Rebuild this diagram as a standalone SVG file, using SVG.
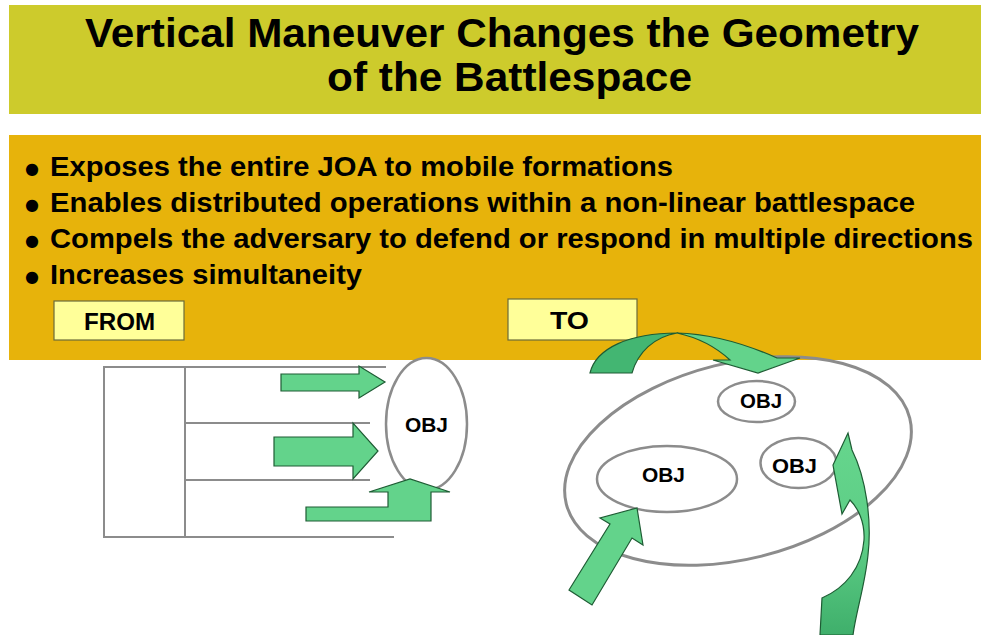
<svg xmlns="http://www.w3.org/2000/svg" width="981" height="635" viewBox="0 0 981 635">
  <style>
    .bold { font-family: "Liberation Sans", Arial, sans-serif; font-weight: bold; fill: #000; }
    .title { font-size: 41px; }
    .bullet-text { font-size: 27px; }
    .dot { font-family: "DejaVu Sans", sans-serif; font-size: 16px; fill: #000; }
    .tag { font-size: 23px; }
    .obj-label { font-size: 20px; text-anchor: middle; }
    .tag-box { fill: #FFFF99; stroke: #6B6B3A; stroke-width: 1.2; }
    .obj { fill: #FFFFFF; stroke: #8C8C8C; stroke-width: 2.5; }
    .rule { stroke: #8C8C8C; stroke-width: 2; fill: none; }
    .arrow { fill: #63D38B; stroke: #1E5C34; stroke-width: 1.2; stroke-linejoin: miter; }
    .arrow-dark { fill: #43B672; stroke: #1E5C34; stroke-width: 1.2; }
  </style>
  <defs>
    <linearGradient id="curl-fill" x1="0" y1="0" x2="0" y2="1">
      <stop offset="0" stop-color="#66D68D"/>
      <stop offset="0.55" stop-color="#5CCD85"/>
      <stop offset="1" stop-color="#3FAF6B"/>
    </linearGradient>
  </defs>

  <rect x="0" y="0" width="981" height="635" fill="#FFFFFF"/>

  <!-- header band -->
  <g id="title">
    <rect x="9" y="5" width="972" height="109" fill="#CDCB2C"/>
    <text class="bold title" x="85" y="47" textLength="834" lengthAdjust="spacingAndGlyphs">Vertical Maneuver Changes the Geometry</text>
    <text class="bold title" x="327" y="91" textLength="365" lengthAdjust="spacingAndGlyphs">of the Battlespace</text>
  </g>

  <!-- bullet panel -->
  <g id="bullets">
    <rect x="9" y="135" width="972" height="225" fill="#E7B30B"/>
    <text class="dot" x="25" y="174">●</text>
    <text class="dot" x="25" y="210">●</text>
    <text class="dot" x="25" y="246">●</text>
    <text class="dot" x="25" y="282">●</text>
    <text class="bold bullet-text" x="50" y="176" textLength="623" lengthAdjust="spacingAndGlyphs">Exposes the entire JOA to mobile formations</text>
    <text class="bold bullet-text" x="50" y="212" textLength="865" lengthAdjust="spacingAndGlyphs">Enables distributed operations within a non-linear battlespace</text>
    <text class="bold bullet-text" x="50" y="248" textLength="923" lengthAdjust="spacingAndGlyphs">Compels the adversary to defend or respond in multiple directions</text>
    <text class="bold bullet-text" x="50" y="284" textLength="312" lengthAdjust="spacingAndGlyphs">Increases simultaneity</text>
  </g>

  <g id="from-label">
    <rect class="tag-box" x="54" y="301" width="130" height="39"/>
    <text class="bold tag" x="84" y="330" textLength="71" lengthAdjust="spacingAndGlyphs">FROM</text>
  </g>

  <g id="to-label">
    <rect class="tag-box" x="508" y="299" width="129" height="41"/>
    <text class="bold tag" x="550" y="329" textLength="39" lengthAdjust="spacingAndGlyphs">TO</text>
  </g>

  <!-- linear layout: lanes leading to a single objective -->
  <g id="lanes">
    <path class="rule" d="M386,367 H104 V537 H394"/>
    <path class="rule" d="M185,367 V537"/>
    <path class="rule" d="M185,423 H370"/>
    <path class="rule" d="M185,480 H370"/>
  </g>

  <g id="obj-linear">
    <ellipse class="obj" cx="426.5" cy="424" rx="40.5" ry="66"/>
    <text class="bold obj-label" x="426.5" y="432" textLength="43" lengthAdjust="spacingAndGlyphs">OBJ</text>
  </g>

  <!-- non-linear battlespace -->
  <g id="battlespace">
    <ellipse cx="738" cy="461" rx="177" ry="98" transform="rotate(-14 738 461)" fill="none" stroke="#8C8C8C" stroke-width="3"/>
  </g>

  <g id="obj-top">
    <ellipse class="obj" cx="756.5" cy="401.5" rx="38.5" ry="20.5"/>
    <text class="bold obj-label" x="761" y="408" textLength="42" lengthAdjust="spacingAndGlyphs">OBJ</text>
  </g>

  <g id="obj-right">
    <ellipse class="obj" cx="798.5" cy="463" rx="38" ry="25"/>
    <text class="bold obj-label" x="794.5" y="473" textLength="45" lengthAdjust="spacingAndGlyphs">OBJ</text>
  </g>

  <g id="obj-left">
    <ellipse class="obj" cx="667" cy="479" rx="70" ry="33"/>
    <text class="bold obj-label" x="663.5" y="482" textLength="43" lengthAdjust="spacingAndGlyphs">OBJ</text>
  </g>

  <!-- movement arrows -->
  <g id="connectors">
    <polygon class="arrow" points="281,374 359,374 359,366 385,382 359,398 359,391 281,391"/>
    <polygon class="arrow" points="274,437 353,437 353,423 378,451 353,479 353,466 274,466"/>
    <polygon class="arrow" points="306,507 388,507 388,492 369,492 410,479 450,492 431,492 431,521 306,521"/>

    <polygon class="arrow" points="569,590 610,524 600,518 637,508 643,545 632,538 592,605"/>

    <path class="arrow-dark" d="M590,373 C596,348 630,333 677,333 C654,337 638,352 632,373 Z"/>
    <path class="arrow" d="M677,333 C715,334 750,346 777,358 L800,358 L758,373 L713,360 L730,360 C716,347 700,338 677,333 Z"/>

    <path d="M848,433 L852,450 C866,478 872,520 868,555 C865,585 856,612 853,635 L820,635 L822,598 C845,588 862,568 864,540 C865,522 858,508 850,500 L842,514 L833,465 Z" fill="url(#curl-fill)" stroke="#1E5C34" stroke-width="1.2"/>
  </g>
</svg>
